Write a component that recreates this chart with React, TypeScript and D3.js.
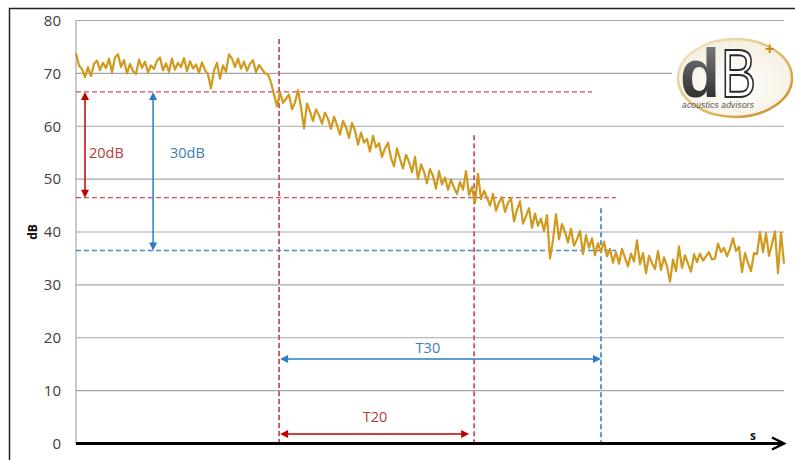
import React from "react";
import * as d3 from "d3";

// sound level, one sample every ~3px of the original
const plateauDb = [
  73.8, 71.5, 70.8, 69.3, 71.2, 69.5, 71.8, 72.4, 70.6, 72.0,
  71.0, 72.8, 70.2, 73.0, 73.6, 71.2, 72.5, 70.0, 71.8, 70.4,
  69.9, 72.6, 71.0, 72.2, 70.2, 71.5, 70.8, 72.4, 73.0, 70.6,
  71.9, 70.3, 72.8, 70.7, 72.0, 71.2, 72.9, 70.4, 72.3, 70.9,
  71.7, 70.1, 72.1, 70.6, 69.8, 67.2, 70.5, 72.0, 69.0, 71.5,
  70.3, 73.6, 72.8, 71.2, 72.8, 70.9, 72.2, 70.5, 71.8, 72.5,
  70.2, 71.6, 70.8, 70.0, 69.8,
];
const decayDb = [
  68.3, 66.0, 63.8, 66.4, 64.4, 65.2, 66.0, 63.2, 64.5, 66.8,
  63.6, 59.6, 64.3, 62.8, 61.0, 63.2, 62.1, 60.5, 62.6, 61.4,
  59.5, 61.8, 60.2, 58.4, 61.0, 59.8, 57.8, 60.6, 59.2, 56.5,
  58.8, 56.9, 57.6, 55.2, 58.2, 56.0, 56.8, 54.2, 55.8, 56.9,
  54.0, 52.4, 55.8, 53.8, 52.0, 54.6, 53.3, 51.3, 54.2, 50.0,
  52.8, 51.4, 49.2, 51.9, 50.6, 48.2, 51.5, 49.0, 50.3, 48.0,
  49.9, 48.4, 47.2, 49.5, 48.0, 51.5, 47.0, 48.5, 45.5, 51.0,
  46.2, 47.8, 46.5, 45.0, 47.2, 44.0, 45.6, 46.6, 43.8, 45.5,
  46.4, 42.0, 44.2, 45.8, 41.6, 43.0, 44.5, 40.8, 43.5, 41.2,
  42.5, 40.2, 43.2, 35.0, 38.5, 43.4, 38.6, 41.5, 40.0, 38.0,
  40.6, 37.4, 38.6, 40.2, 35.8, 39.4, 37.0, 38.8, 35.6, 37.9,
  36.2, 38.2, 35.4, 36.8, 34.2,
];
const floorDb = [
  36.2, 34.0, 36.8, 35.1, 33.5, 35.9, 34.4, 38.4, 33.9, 36.0,
  32.2, 35.5, 34.1, 33.0, 36.4, 32.8, 35.2, 33.5, 30.6, 34.8,
  32.6, 37.3, 33.2, 35.6, 34.0, 32.5, 35.8, 34.3, 35.9, 34.6,
  35.4, 36.2, 34.8, 35.0, 37.8, 36.2, 37.0, 35.4, 36.8, 38.8,
  36.4, 37.2, 32.4, 36.0, 34.2, 32.6, 36.0, 35.8, 40.0, 36.2,
  39.8, 35.5, 37.8, 40.1, 32.2, 39.9, 34.0,
];
const levels = [...plateauDb, ...decayDb, ...floorDb];

const yTicks = [0, 10, 20, 30, 40, 50, 60, 70, 80];

// reference levels (dB) and sample positions of the decay markers
const startLevel = 66.5;
const t20Level = 46.5;
const t30Level = 36.5;
const startIdx = 67.7;
const t20Idx = 132.7;
const t30Idx = 175;

const RED = "#C00000";
const RED_DASH = "#D0505A";
const RED_TEXT = "#B83C3C";
const BLUE = "#2E7BC0";
const BLUE_DASH = "#4A8FCB";
const BLUE_TEXT = "#3C7DB5";
const GOLD = "#CF9A1E";
const FONT = "'Open Sans', sans-serif";

const W = 795;
const H = 460;
const margin = { left: 76, right: 11, top: 20.5, bottom: 16.5 };

function head(x: number, y: number, dir: "up" | "down" | "left" | "right", color: string, len = 8, hw = 4) {
  let pts: number[][];
  if (dir === "up") pts = [[x, y], [x - hw, y + len], [x + hw, y + len]];
  else if (dir === "down") pts = [[x, y], [x - hw, y - len], [x + hw, y - len]];
  else if (dir === "left") pts = [[x, y], [x + len, y - hw], [x + len, y + hw]];
  else pts = [[x, y], [x - len, y - hw], [x - len, y + hw]];
  return <polygon points={pts.map((p) => p.join(",")).join(" ")} fill={color} />;
}

const Logo: React.FC = () => (
  <g>
    <defs>
      <linearGradient id="swoosh" x1="0" y1="0" x2="1" y2="1">
        <stop offset="0" stopColor="#f4ead2" />
        <stop offset="0.5" stopColor="#e3c070" />
        <stop offset="1" stopColor="#c48a1a" />
      </linearGradient>
      <linearGradient id="dFill" x1="0" y1="0" x2="0" y2="1">
        <stop offset="0" stopColor="#888" />
        <stop offset="1" stopColor="#1e1e1e" />
      </linearGradient>
      <radialGradient id="logoBg" cx="0.5" cy="0.6" r="0.6">
        <stop offset="0" stopColor="#ffffff" />
        <stop offset="1" stopColor="#f6efe0" />
      </radialGradient>
    </defs>
    <rect x={672} y={34} width={123} height={90} fill="#fff" />
    <ellipse cx={735} cy={78} rx={57} ry={39} fill="url(#logoBg)" stroke="url(#swoosh)" strokeWidth={2.5} />
    <text x={680} y={97} fontFamily="'Liberation Sans', Arial, sans-serif" fontSize={68} fontWeight="bold"
      fill="url(#dFill)" textLength={40} lengthAdjust="spacingAndGlyphs">d</text>
    <text x={721} y={97} fontFamily="'Liberation Sans', Arial, sans-serif" fontSize={68} fill="#fff"
      stroke="#2a2a2a" strokeWidth={2} textLength={35} lengthAdjust="spacingAndGlyphs">B</text>
    <text x={765} y={54} fontFamily="'Liberation Sans', Arial, sans-serif" fontSize={16} fontWeight="bold"
      fill="#C48A1A">+</text>
    <text x={682} y={108} fontFamily="'Liberation Sans', Arial, sans-serif" fontSize={8.5} fontStyle="italic"
      fill="#555" textLength={72}>acoustics advisors</text>
  </g>
);

const App: React.FC = () => {
  const x = d3.scaleLinear().domain([0, levels.length - 1]).range([margin.left, W - margin.right]);
  const y = d3.scaleLinear().domain([0, 80]).range([H - margin.bottom, margin.top]);

  const line = d3
    .line<number>()
    .x((_, i) => x(i))
    .y((d) => y(d));

  const x0 = x(0);
  const xs = x(startIdx);
  const x20 = x(t20Idx);
  const x30 = x(t30Idx);
  const yBase = y(0);

  return (
    <svg width={W} height={H} style={{ position: "absolute", left: 0, top: 0, background: "#fff" }}>
      <rect x={9.5} y={8.5} width={800} height={470} fill="none" stroke="#222" strokeWidth={1.5} />

      {/* grid + tick labels */}
      {yTicks.map((t) => (
        <g key={t}>
          {t > 0 && (
            <line x1={x0} x2={W - margin.right} y1={y(t)} y2={y(t)} stroke="#a6a6a6" strokeWidth={1.2} />
          )}
          <text x={61} y={y(t)} dy="0.35em" textAnchor="end" fontFamily={FONT} fontSize={15} fill="#404040">
            {t}
          </text>
        </g>
      ))}
      <line x1={x0} x2={x0} y1={y(80)} y2={yBase} stroke="#a6a6a6" strokeWidth={1.2} />

      <Logo />

      {/* horizontal reference levels */}
      <line x1={x0} x2={x(172)} y1={y(startLevel)} y2={y(startLevel)} stroke={RED_DASH} strokeWidth={1.4} strokeDasharray="5 3" />
      <line x1={x0} x2={x(180)} y1={y(t20Level)} y2={y(t20Level)} stroke={RED_DASH} strokeWidth={1.4} strokeDasharray="5 3" />
      <line x1={x0} x2={x(180)} y1={y(t30Level)} y2={y(t30Level)} stroke={BLUE_DASH} strokeWidth={1.4} strokeDasharray="5 3" />

      {/* vertical markers */}
      <line x1={xs} x2={xs} y1={y(76.5)} y2={yBase} stroke={RED_DASH} strokeWidth={1.8} strokeDasharray="5 3" />
      <line x1={x20} x2={x20} y1={y(58.3)} y2={yBase} stroke={RED_DASH} strokeWidth={1.8} strokeDasharray="5 3" />
      <line x1={x30} x2={x30} y1={y(44.5)} y2={yBase} stroke={BLUE_DASH} strokeWidth={1.8} strokeDasharray="5 3" />

      {/* decay trace */}
      <path d={line(levels) || ""} fill="none" stroke={GOLD} strokeWidth={2.2} strokeLinejoin="round" />

      {/* 20dB / 30dB arrows */}
      <line x1={x(3)} x2={x(3)} y1={y(startLevel) + 6} y2={y(t20Level) - 6} stroke={RED} strokeWidth={1.5} />
      {head(x(3), y(startLevel), "up", RED)}
      {head(x(3), y(t20Level), "down", RED)}
      <text x={89} y={y(55)} dy="0.35em" fontFamily={FONT} fontSize={14.5} fill={RED_TEXT}>20dB</text>

      <line x1={x(25.7)} x2={x(25.7)} y1={y(startLevel) + 6} y2={y(t30Level) - 6} stroke={BLUE} strokeWidth={1.5} />
      {head(x(25.7), y(startLevel), "up", BLUE)}
      {head(x(25.7), y(t30Level), "down", BLUE)}
      <text x={170} y={y(55)} dy="0.35em" fontFamily={FONT} fontSize={14.5} fill={BLUE_TEXT}>30dB</text>

      {/* T30 / T20 arrows */}
      <line x1={xs + 6} x2={x30 - 6} y1={y(16)} y2={y(16)} stroke={BLUE} strokeWidth={1.5} />
      {head(xs + 1, y(16), "left", BLUE)}
      {head(x30, y(16), "right", BLUE)}
      <text x={x(117.3)} y={y(18)} dy="0.35em" textAnchor="middle" fontFamily={FONT} fontSize={14.5} fill={BLUE_TEXT}>T30</text>

      <line x1={xs + 6} x2={x20 - 10} y1={y(1.8)} y2={y(1.8)} stroke={RED} strokeWidth={1.5} />
      {head(xs + 1, y(1.8), "left", RED)}
      {head(x20 - 5, y(1.8), "right", RED)}
      <text x={x(99.7)} y={y(5)} dy="0.35em" textAnchor="middle" fontFamily={FONT} fontSize={14.5} fill={RED_TEXT}>T20</text>

      {/* time axis */}
      <line x1={x0} x2={W - margin.right - 1} y1={yBase} y2={yBase} stroke="#000" strokeWidth={3} />
      <polyline points={`${W - margin.right - 12},${yBase - 6} ${W - margin.right},${yBase} ${W - margin.right - 12},${yBase + 6}`}
        fill="none" stroke="#000" strokeWidth={2.5} />
      <text x={750} y={yBase - 4} fontFamily={FONT} fontSize={12} fontWeight="bold" fill="#111">s</text>

      <text transform={`translate(37,232) rotate(-90)`} textAnchor="middle" fontFamily={FONT} fontSize={12}
        fontWeight="bold" fill="#111">dB</text>
    </svg>
  );
};

export default App;
